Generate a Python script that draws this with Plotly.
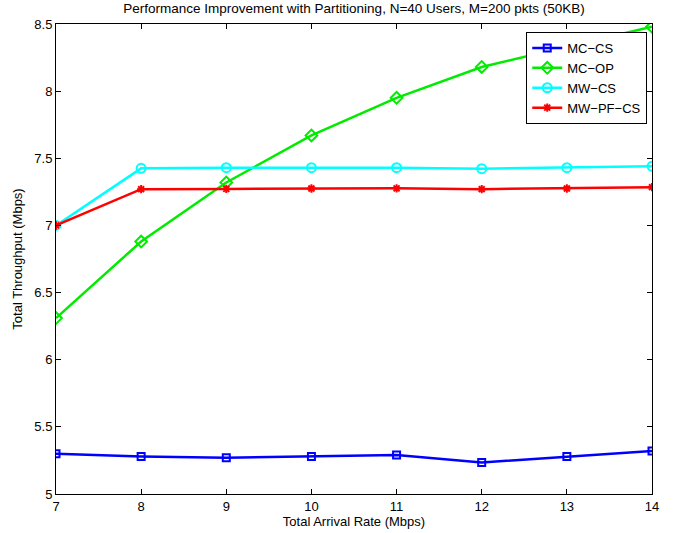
import plotly.graph_objects as go

arrival_rate = [7, 8, 9, 10, 11, 12, 13, 14]
mc_cs = [5.30, 5.28, 5.27, 5.28, 5.29, 5.235, 5.28, 5.32]
mc_op = [6.31, 6.88, 7.32, 7.67, 7.95, 8.18, 8.33, 8.48]
mw_cs = [7.00, 7.425, 7.43, 7.43, 7.43, 7.423, 7.43, 7.44]
mw_pf_cs = [7.00, 7.27, 7.272, 7.275, 7.276, 7.27, 7.275, 7.285]

series = [
    ("MC\u2212CS", mc_cs, "rgb(0,0,255)", "square-open", 7),
    ("MC\u2212OP", mc_op, "rgb(0,235,0)", "diamond-open", 9),
    ("MW\u2212CS", mw_cs, "rgb(0,255,255)", "circle-open", 9),
    ("MW\u2212PF\u2212CS", mw_pf_cs, "rgb(255,0,0)", "asterisk-open", 7),
]

fig = go.Figure()
for name, vals, color, sym, size in series:
    fig.add_trace(go.Scatter(
        x=arrival_rate, y=vals, name=name, mode="lines+markers",
        line=dict(color=color, width=2.5),
        marker=dict(symbol=sym, size=size, color=color, line=dict(color=color, width=2)),
    ))

font = "Liberation Sans, Arial, Helvetica, sans-serif"
fig.update_layout(
    width=677, height=533,
    margin=dict(l=56, r=25, t=24, b=39, autoexpand=False),
    paper_bgcolor="white", plot_bgcolor="white",
    font=dict(family=font, size=13, color="black"),
    title=dict(text="Performance Improvement with Partitioning, N=40 Users, M=200 pkts (50KB)",
               x=0.5, xref="paper", xanchor="center", y=0.993, yref="container", yanchor="top",
               font=dict(size=13.5), automargin=False),
    showlegend=True,
    legend=dict(x=0.789, y=0.983, xanchor="left", yanchor="top",
                bgcolor="white", bordercolor="black", borderwidth=1,
                font=dict(size=13), tracegroupgap=0, itemwidth=30),
)
fig.update_xaxes(
    range=[7, 14], tickmode="array", tickvals=arrival_rate,
    ticks="inside", ticklen=5, tickcolor="black", mirror="ticks", automargin=False,
    showline=True, linecolor="black", linewidth=1, showgrid=False, zeroline=False,
    title=dict(text="Total Arrival Rate (Mbps)", standoff=2, font=dict(size=13)),
    tickfont=dict(size=13),
)
yticks = [5, 5.5, 6, 6.5, 7, 7.5, 8, 8.5]
fig.update_yaxes(
    range=[5, 8.5], tickmode="array", tickvals=yticks, ticktext=[f"{v:g}" for v in yticks],
    ticks="inside", ticklen=5, tickcolor="black", mirror="ticks", automargin=False,
    showline=True, linecolor="black", linewidth=1, showgrid=False, zeroline=False,
    title=dict(text="Total Throughput (Mbps)", standoff=8, font=dict(size=13)),
    tickfont=dict(size=13),
)
fig.write_html("out.html", config={"displayModeBar": False},
               post_script="document.body.style.margin='0';")
